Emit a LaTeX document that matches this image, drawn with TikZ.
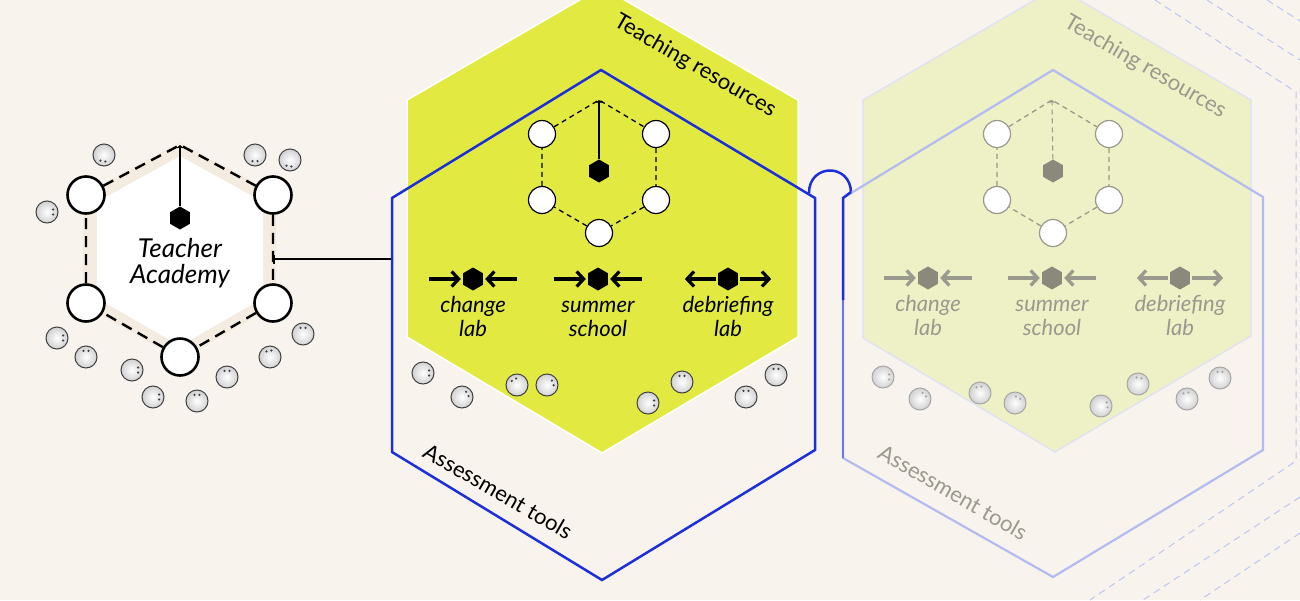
\documentclass[tikz,border=0pt]{standalone}
\usepackage{fontspec}
\setmainfont{Lato}
\usetikzlibrary{shapes.geometric,arrows.meta,positioning}
\definecolor{paper}{HTML}{F8F3ED}
\definecolor{band}{HTML}{F4EBE1}
\definecolor{lime}{HTML}{E2EA42}
\definecolor{limefade}{HTML}{EEF0C6}
\definecolor{ink}{HTML}{1C2FD9}
\definecolor{inkfade}{HTML}{B3BBF0}
\definecolor{greyink}{HTML}{9A998D}
\definecolor{greyhub}{HTML}{8A897C}
\tikzset{
  hub/.style={regular polygon, regular polygon sides=6, shape border rotate=30, fill=#1, inner sep=0pt, minimum size=23pt},
  member/.style={circle, draw=#1, fill=white, inner sep=0pt},
  person/.style 2 args={circle, draw=#2, line width=1pt, inner color=white, outer color=black!18, minimum size=22pt, inner sep=0pt,
    path picture={\fill[#2] (path picture bounding box.center) ++(#1-22:6.6pt) circle (1.2pt);
                  \fill[#2] (path picture bounding box.center) ++(#1+22:6.6pt) circle (1.2pt);}},
  flow/.style={line width=3.2pt, -{Straight Barb[length=7pt,width=15pt]}},
  lbl/.style={font=\itshape\fontsize{22}{23}\selectfont, align=center, inner sep=0pt},
  edgetext/.style={font=\fontsize{22}{25}\selectfont, rotate=-30, inner sep=0pt},
}
\begin{document}
\begin{tikzpicture}[x=1pt,y=-1pt]
	\fill[paper] (0,0) rectangle (1300,600);
	\useasboundingbox (0,0) rectangle (1300,600);
	\clip (0,0) rectangle (1300,600);
	% faint outlines on the far right
	\draw[inkfade!85, line width=1pt, dash pattern=on 7pt off 5pt] (1155,0) -- (1296,92) -- (1296,461) -- (1090,600);
	\draw[inkfade!85, line width=1pt, dash pattern=on 7pt off 5pt] (1207,0) -- (1300,60);
	\draw[inkfade!85, line width=1pt, dash pattern=on 7pt off 5pt] (1267,0) -- (1300,21);
	\draw[inkfade!85, line width=1pt, dash pattern=on 7pt off 5pt] (1300,497) -- (1143,600);
	\draw[inkfade!85, line width=1pt, dash pattern=on 7pt off 5pt] (1300,533) -- (1200,600);

	% Teacher Academy
	\fill[band] (180,142) -- (276,194) -- (276,305) -- (180,360) -- (83,305) -- (83,194) -- cycle;
	\fill[white] (180,156) -- (263,202) -- (263,298) -- (180,346) -- (97,298) -- (97,202) -- cycle;
	\coordinate (ta-top) at (180,145);
	\node[member=black, line width=2.6pt, minimum size=37pt] (ta-ul) at (86,195) {};
	\node[member=black, line width=2.6pt, minimum size=37pt] (ta-ur) at (273,195) {};
	\node[member=black, line width=2.6pt, minimum size=37pt] (ta-ll) at (86,303) {};
	\node[member=black, line width=2.6pt, minimum size=37pt] (ta-lr) at (273,303) {};
	\node[member=black, line width=2.6pt, minimum size=37pt] (ta-bot) at (180,357) {};
	\draw[line width=2.4pt, dash pattern=on 11pt off 7pt] (ta-ul) -- (ta-top) -- (ta-ur) -- (ta-lr) -- (ta-bot) -- (ta-ll) -- (ta-ul);
	\node[hub=black] (ta-hub) at (180,218) {};
	\draw[line width=1.3pt, -{Straight Barb[length=2pt,width=5pt]}] (ta-hub) -- (ta-top);
	\node[font=\itshape\fontsize{26}{26}\selectfont, align=center] (ta-name) at (180,263) {Teacher\\Academy};
	\coordinate (ta-port) at (273,259);
	\coordinate (ar-port) at (393,259);
	\draw[line width=2pt, {Bar[width=9pt]}-] (ta-port) -- (ar-port);
	\foreach \px/\py/\pa in {104/155/-100, 255/155/-90, 290/160/-100, 47/212/0, 57/338/0, 86/357/90,
	                         132/370/0, 153/397/0, 197/401/90, 227/377/90, 270/357/100, 303/334/90}
		\node[person={\pa}{black!75}] at (\px,\py) {};

	% Teaching resources / Assessment tools
	\fill[lime, draw=white, line width=1.5pt] (602,-13) -- (798,100) -- (798,337) -- (602,453) -- (407,337) -- (407,100) -- cycle;
	\draw[ink, line width=2.5pt, line join=miter] (601,70) -- (815,198) -- (815,450) -- (602,580) -- (392,452) -- (392,198) -- cycle;
	\draw[ink, line width=2.5pt] (809,193) .. controls (809,163) and (851,163) .. (851,193);
	\node[edgetext] (tr-text) at (695,66) {Teaching resources};
	\node[edgetext] (at-text) at (498,491) {Assessment tools};

	\coordinate (tr-top) at (599,100);
	\node[member=black, line width=1.2pt, minimum size=27pt] (tr-ul) at (542,134) {};
	\node[member=black, line width=1.2pt, minimum size=27pt] (tr-ur) at (656,134) {};
	\node[member=black, line width=1.2pt, minimum size=27pt] (tr-ll) at (542,200) {};
	\node[member=black, line width=1.2pt, minimum size=27pt] (tr-lr) at (656,200) {};
	\node[member=black, line width=1.2pt, minimum size=27pt] (tr-bot) at (599,233) {};
	\draw[line width=1.3pt, dash pattern=on 5pt off 4pt] (tr-ul) -- (tr-top) -- (tr-ur) -- (tr-lr) -- (tr-bot) -- (tr-ll) -- (tr-ul);
	\node[hub=black] (tr-hub) at (599,171) {};
	\draw[line width=1.1pt, -{Straight Barb[length=2pt,width=5pt]}] (tr-hub) -- (tr-top);

	\node[hub=black] (cl-hub) at (473,279) {};
	\node[hub=black] (ss-hub) at (598,279) {};
	\node[hub=black] (dl-hub) at (728,279) {};
	\coordinate[left=34pt of cl-hub] (cl-a);
	\coordinate[right=34pt of cl-hub] (cl-b);
	\coordinate[left=34pt of ss-hub] (ss-a);
	\coordinate[right=34pt of ss-hub] (ss-b);
	\coordinate[left=33pt of dl-hub] (dl-a);
	\coordinate[right=33pt of dl-hub] (dl-b);
	\draw[flow, shorten >=2pt] (cl-a) -- (cl-hub);
	\draw[flow, shorten >=2pt] (cl-b) -- (cl-hub);
	\draw[flow, shorten >=2pt] (ss-a) -- (ss-hub);
	\draw[flow, shorten >=2pt] (ss-b) -- (ss-hub);
	\draw[flow, shorten <=2pt] (dl-hub) -- (dl-a);
	\draw[flow, shorten <=2pt] (dl-hub) -- (dl-b);
	\node[lbl, below=5pt of cl-hub] (cl-text) {\strut change\\lab};
	\node[lbl, below=5pt of ss-hub] (ss-text) {\strut summer\\school};
	\node[lbl, below=5pt of dl-hub] (dl-text) {\strut debriefing\\lab};
	\foreach \px/\py/\pa in {423/373/0, 462/397/30, 517/385/120, 547/385/20,
	                         648/403/0, 682/382/90, 746/397/90, 776/375/90}
		\node[person={\pa}{black!75}] at (\px,\py) {};

	% faded copy
	\fill[limefade, draw=inkfade!45, line width=1.2pt] (1057,-13) -- (1251,100) -- (1251,336) -- (1055,452) -- (863,338) -- (863,100) -- cycle;
	\draw[inkfade, line width=2.2pt, line join=miter] (1053,70) -- (1263,197) -- (1263,450) -- (1053,577) -- (843,458) -- (843,198) -- cycle;
	\draw[ink!65, line width=2.4pt] (843,300) -- (843,458);
	\draw[ink, line width=2.5pt, line join=miter] (851,192) -- (843,198) -- (843,300);
	\node[edgetext, text=greyink] (tr2-text) at (1145,67) {Teaching resources};
	\node[edgetext, text=greyink] (at2-text) at (953,492) {Assessment tools};

	\coordinate (tr2-top) at (1052,100);
	\node[member=greyink, line width=1.2pt, minimum size=27pt] (tr2-ul) at (997,134) {};
	\node[member=greyink, line width=1.2pt, minimum size=27pt] (tr2-ur) at (1109,134) {};
	\node[member=greyink, line width=1.2pt, minimum size=27pt] (tr2-ll) at (997,200) {};
	\node[member=greyink, line width=1.2pt, minimum size=27pt] (tr2-lr) at (1109,200) {};
	\node[member=greyink, line width=1.2pt, minimum size=27pt] (tr2-bot) at (1053,233) {};
	\draw[greyink, line width=1.3pt, dash pattern=on 5pt off 4pt] (tr2-ul) -- (tr2-top) -- (tr2-ur) -- (tr2-lr) -- (tr2-bot) -- (tr2-ll) -- (tr2-ul);
	\node[hub=greyhub] (tr2-hub) at (1053,171) {};
	\draw[greyink, line width=1.1pt, dash pattern=on 5pt off 4pt, -{Straight Barb[length=2pt,width=5pt]}] (tr2-hub) -- (tr2-top);

	\node[hub=greyhub] (cl2-hub) at (928,278) {};
	\node[hub=greyhub] (ss2-hub) at (1052,278) {};
	\node[hub=greyhub] (dl2-hub) at (1180,278) {};
	\coordinate[left=34pt of cl2-hub] (cl2-a);
	\coordinate[right=34pt of cl2-hub] (cl2-b);
	\coordinate[left=34pt of ss2-hub] (ss2-a);
	\coordinate[right=34pt of ss2-hub] (ss2-b);
	\coordinate[left=33pt of dl2-hub] (dl2-a);
	\coordinate[right=33pt of dl2-hub] (dl2-b);
	\draw[flow, greyink, shorten >=2pt] (cl2-a) -- (cl2-hub);
	\draw[flow, greyink, shorten >=2pt] (cl2-b) -- (cl2-hub);
	\draw[flow, greyink, shorten >=2pt] (ss2-a) -- (ss2-hub);
	\draw[flow, greyink, shorten >=2pt] (ss2-b) -- (ss2-hub);
	\draw[flow, greyink, shorten <=2pt] (dl2-hub) -- (dl2-a);
	\draw[flow, greyink, shorten <=2pt] (dl2-hub) -- (dl2-b);
	\node[lbl, text=greyink, below=5pt of cl2-hub] (cl2-text) {\strut change\\lab};
	\node[lbl, text=greyink, below=5pt of ss2-hub] (ss2-text) {\strut summer\\school};
	\node[lbl, text=greyink, below=5pt of dl2-hub] (dl2-text) {\strut debriefing\\lab};
	\foreach \px/\py/\pa in {883/377/0, 920/399/45, 980/393/100, 1015/403/60,
	                         1101/406/10, 1138/384/80, 1187/399/100, 1220/378/90}
		\node[person={\pa}{black!35}] at (\px,\py) {};
\end{tikzpicture}
\end{document}
